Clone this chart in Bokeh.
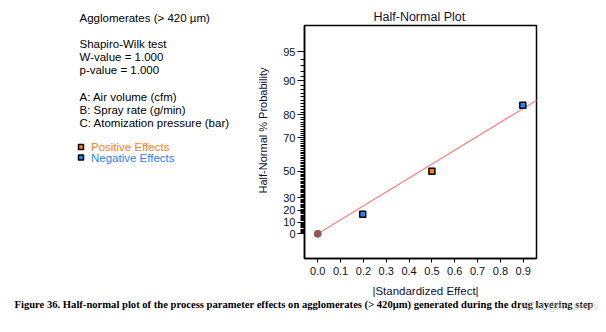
from statistics import NormalDist
import math
from bokeh.plotting import figure
from bokeh.models import FixedTicker, Range1d
from bokeh.layouts import row, column
from bokeh.core.properties import value
from bokeh.embed import file_html
from bokeh.resources import INLINE

# ---- data ----
effect_abs_neg = [0.197, 0.898]
effect_pct_neg = [16.67, 83.33]
effect_abs_pos = [0.500]
effect_pct_pos = [50.0]
origin_abs = [0.0]
origin_pct = [0.0]
fit_abs = [0.0, 1.0]
fit_pct = [0.0, 86.6]

y_major_pct = [0, 10, 20, 30, 50, 70, 80, 90, 95]
y_minor_pct = [v for v in range(1, 96) if v not in y_major_pct]
x_ticks = [0.0, 0.1, 0.2, 0.3, 0.4, 0.5, 0.6, 0.7, 0.8, 0.9]

heading = "Agglomerates (> 420 \u00b5m)"
info_lines = ["Shapiro-Wilk test", "W-value = 1.000", "p-value = 1.000",
              "A: Air volume (cfm)", "B: Spray rate (g/min)",
              "C: Atomization pressure (bar)"]
legend_labels = ["Positive Effects", "Negative Effects"]
legend_colors = ["#ff7f00", "#1e88ff"]
legend_text_colors = ["#ff8010", "#2f80ff"]
caption = ("Figure 36. Half-normal plot of the process parameter effects on agglomerates "
           "(> 420\u03bcm) generated during the drug layering step")
watermark = "CSDN @lichaoaini"

nd = NormalDist()
def hn(p):
    return nd.inv_cdf(0.5 + p / 200.0)

FONT = "Liberation Sans"
W, H = 606, 332
LW = 270          # width of left text panel
TOP_H = 282       # height of top row
FL, FR, FT, FB = 304, 536, 25, 258

def style_title(f, text, offset, size, color):
    f.title.text = text
    f.title.align = "left"
    f.title.offset = offset
    f.title.text_font = FONT
    f.title.text_font_size = size
    f.title.text_font_style = "normal"
    f.title.text_color = color
    f.title.standoff = 3

# ---- left text panel (frame aligned with main frame) ----
left = figure(width=LW, height=TOP_H, output_backend="svg", toolbar_location=None,
              x_range=Range1d(0, LW), y_range=Range1d(FB, FT),
              min_border_left=0, min_border_right=0, min_border_top=FT,
              min_border_bottom=TOP_H - FB)
left.axis.visible = False
left.grid.visible = False
left.outline_line_color = None
left.background_fill_color = "white"
left.border_fill_color = "white"
style_title(left, heading, 79, "11.5px", "black")

info_y = [43, 56, 69, 96, 109, 122]
left.text(x=[79] * len(info_lines), y=info_y, text=info_lines,
          text_font=value(FONT), text_font_size=value("11.5px"),
          text_color="black", text_baseline="middle", text_align="left")
leg_y = [146.5, 157]
left.scatter(x=[80.5, 80.5], y=leg_y, marker="square", size=5,
             fill_color=legend_colors, line_color="black", line_width=1.5)
left.text(x=[90.5, 90.5], y=leg_y, text=legend_labels, text_color=legend_text_colors,
          text_font=value(FONT), text_font_size=value("11.5px"),
          text_baseline="middle", text_align="left")
left.text(x=[262], y=[130], text=["Half-Normal % Probability"], angle=math.pi / 2,
          text_font=value(FONT), text_font_size=value("11px"), text_color="#111133",
          text_baseline="middle", text_align="center")

# ---- main plot ----
p = figure(width=W - LW, height=TOP_H, output_backend="svg", toolbar_location=None,
           x_range=Range1d(-0.058, 0.958), y_range=Range1d(-0.266, 2.242),
           min_border_left=FL - LW, min_border_right=W - FR, min_border_top=FT,
           min_border_bottom=TOP_H - FB)
p.background_fill_color = "white"
p.border_fill_color = "white"
p.outline_line_color = "black"
p.outline_line_width = 1.5
p.xgrid.visible = False
p.ygrid.visible = False
style_title(p, "Half-Normal Plot", 69, "12.5px", "#111133")

p.yaxis.ticker = FixedTicker(ticks=[hn(v) for v in y_major_pct],
                             minor_ticks=[hn(v) for v in y_minor_pct])
p.yaxis.major_label_overrides = {hn(v): str(v) for v in y_major_pct}
p.yaxis.major_tick_out = 7
p.yaxis.major_tick_in = 0
p.yaxis.minor_tick_out = 4
p.yaxis.minor_tick_in = 0
p.yaxis.major_label_standoff = 2
p.xaxis.ticker = FixedTicker(ticks=x_ticks, minor_ticks=[])
p.xaxis.major_label_overrides = {v: f"{v:.1f}" for v in x_ticks}
p.xaxis.major_tick_out = 4
p.xaxis.major_tick_in = 0
p.xaxis.minor_tick_out = 0
p.xaxis.minor_tick_in = 0
p.xaxis.major_label_standoff = 4
for ax in (p.xaxis, p.yaxis):
    ax.axis_line_color = "black"
    ax.axis_line_width = 1.5
    ax.major_tick_line_color = "black"
    ax.minor_tick_line_color = "black"
    ax.major_label_text_font = FONT
    ax.major_label_text_font_size = "11px"
    ax.major_label_text_color = "#111122"

p.line(fit_abs, [hn(v) for v in fit_pct], line_color="#ff8080", line_width=1.2)
p.scatter(origin_abs, [hn(v) for v in origin_pct], marker="circle", size=7,
          fill_color="#a85050", line_color="#666666", line_width=1)
p.scatter(effect_abs_pos, [hn(v) for v in effect_pct_pos], marker="square", size=6,
          fill_color=legend_colors[0], line_color="black", line_width=1.5)
p.scatter(effect_abs_neg, [hn(v) for v in effect_pct_neg], marker="square", size=6,
          fill_color=legend_colors[1], line_color="black", line_width=1.5)

# ---- bottom strip: x-axis title, caption, watermark ----
BOT_H = H - TOP_H
bottom = figure(width=W, height=BOT_H, output_backend="svg", toolbar_location=None,
                x_range=Range1d(0, W), y_range=Range1d(BOT_H, 0),
                min_border=0, min_border_left=0, min_border_right=0,
                min_border_top=0, min_border_bottom=0)
bottom.axis.visible = False
bottom.grid.visible = False
bottom.outline_line_color = None
bottom.background_fill_color = "white"
bottom.border_fill_color = "white"
bottom.text(x=[425], y=[290 - TOP_H], text=["|Standardized Effect|"],
            text_font=value(FONT), text_font_size=value("11.5px"), text_color="#111133",
            text_baseline="middle", text_align="center")
bottom.text(x=[14], y=[304 - TOP_H], text=[caption], text_font=value("Liberation Serif"),
            text_font_size=value("10.6px"), text_font_style="bold", text_color="black",
            text_baseline="middle", text_align="left")
bottom.text(x=[598], y=[306 - TOP_H], text=[watermark], text_font=value(FONT),
            text_font_size=value("10px"), text_color="#c8c8c8", text_alpha=0.8,
            text_baseline="middle", text_align="right")

layout = column(row(left, p, spacing=0), bottom, spacing=0)
open("out.html", "w").write(file_html(layout, INLINE))
